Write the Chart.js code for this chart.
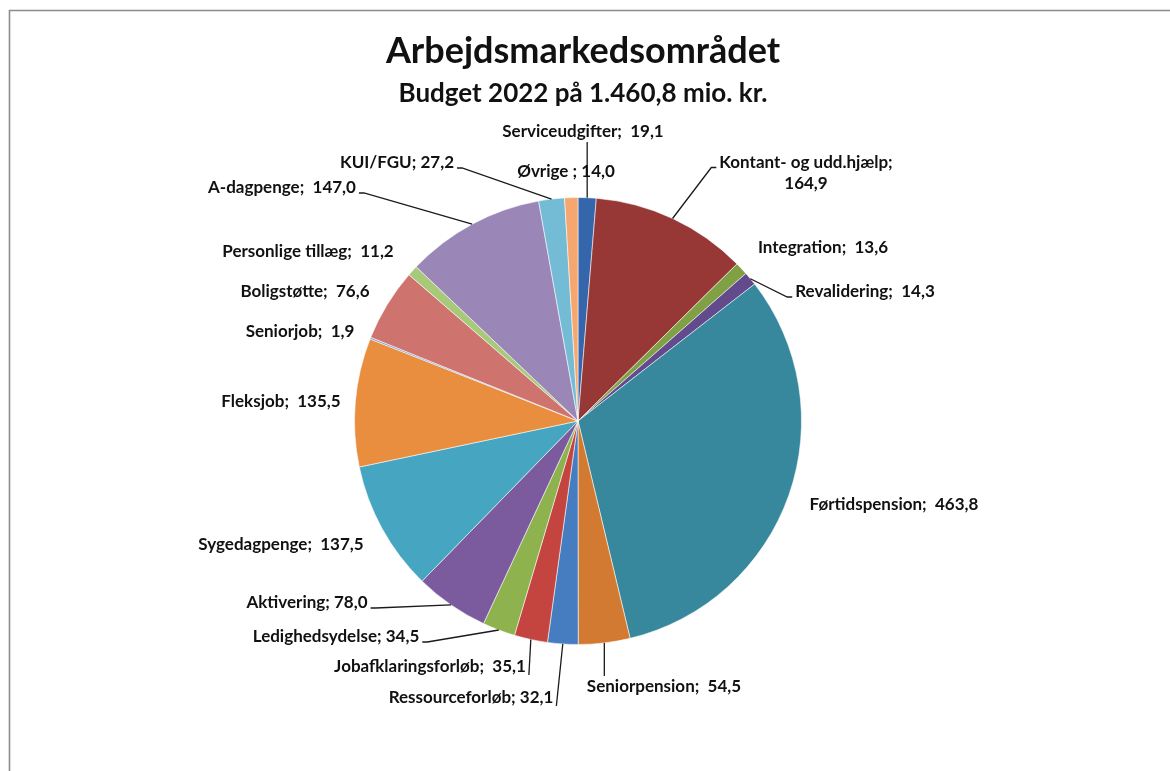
<!DOCTYPE html>
<html><head><meta charset="utf-8">
<script src="https://cdn.jsdelivr.net/npm/chart.js@4.4.1/dist/chart.umd.min.js"></script>
<style>html,body{margin:0;padding:0;background:#fff;} #wrap{position:relative;width:1170px;height:771px;}</style>
</head><body><div id="wrap"><canvas id="c" width="1170" height="771"></canvas></div>
<script>
const categories = ["Serviceudgifter","Kontant- og udd.hjælp","Integration","Revalidering","Førtidspension","Seniorpension","Ressourceforløb","Jobafklaringsforløb","Ledighedsydelse","Aktivering","Sygedagpenge","Fleksjob","Seniorjob","Boligstøtte","Personlige tillæg","A-dagpenge","KUI/FGU","Øvrige "];
const budget = [19.1,164.9,13.6,14.3,463.8,54.5,32.1,35.1,34.5,78.0,137.5,135.5,1.9,76.6,11.2,147.0,27.2,14.0];
const labelSeparators = [";  ",";",";  ",";  ",";  ",";  ","; ",";  ","; ","; ",";  ",";  ",";  ",";  ",";  ",";  ","; ","; "];
const titleText = "Arbejdsmarkedsområdet";
const subtitleText = "Budget 2022 på 1.460,8 mio. kr.";

const sliceColors = ["#3566AC","#973836","#7FA144","#634A8C","#37889C","#D27A32","#467DC1","#C4453F","#8DB24E","#7B5A9E","#46A6C2","#E98E3F","#7E9FCB","#CF736F","#A9C97A","#9A87B8","#74BCD6","#F6A770"];

// label placement (label centre) and leader style
const labelLayout = [
  {x:583,y:132,leader:'below'},
  {x:806,y:173,leader:'left',wrap:true},
  {x:823,y:248,leader:null},
  {x:865,y:292,leader:'left'},
  {x:894,y:505,leader:null},
  {x:664,y:687,leader:'above'},
  {x:471,y:698,leader:'rightv'},
  {x:430,y:667,leader:'rightv'},
  {x:336,y:637,leader:'right'},
  {x:307,y:603,leader:'right'},
  {x:281,y:545,leader:null},
  {x:281,y:402,leader:null},
  {x:300,y:332,leader:null},
  {x:305,y:292,leader:null},
  {x:308,y:252,leader:null},
  {x:282,y:188,leader:'right'},
  {x:397,y:163,leader:'right'},
  {x:566,y:172,leader:null}
];

const FONT = "Lato, 'Noto Sans', sans-serif";
const labelFont = "bold 17px " + FONT;
const fmt = v => v.toFixed(1).replace('.', ',');

const framePlugin = {
  id:'frame',
  beforeDraw(chart){
    const ctx = chart.ctx;
    ctx.save();
    ctx.fillStyle = '#fff';
    ctx.fillRect(0,0,chart.width,chart.height);
    ctx.strokeStyle = '#8c8c8c';
    ctx.lineWidth = 1.6;
    ctx.beginPath();
    ctx.moveTo(9.5, chart.height+2);
    ctx.lineTo(9.5, 10.5);
    ctx.lineTo(chart.width+2, 10.5);
    ctx.stroke();
    ctx.restore();
  }
};

const labelPlugin = {
  id:'pieLabels',
  afterDatasetsDraw(chart){
    const ctx = chart.ctx;
    ctx.save();
    ctx.fillStyle = '#111';
    ctx.textAlign = 'center';
    ctx.textBaseline = 'middle';
    ctx.font = "bold 36px " + FONT;
    ctx.fillText(titleText, 583, 51);
    ctx.font = "bold 26px " + FONT;
    ctx.fillText(subtitleText, 583, 94);

    const meta = chart.getDatasetMeta(0);
    ctx.font = labelFont;
    const lineH = 21;
    meta.data.forEach((arc, i) => {
      const p = arc.getProps(['x','y','startAngle','endAngle','outerRadius'], true);
      const mid = (p.startAngle + p.endAngle) / 2;
      const ex = p.x + Math.cos(mid) * p.outerRadius;
      const ey = p.y + Math.sin(mid) * p.outerRadius;
      const L = labelLayout[i];
      const lines = L.wrap ? [categories[i] + labelSeparators[i], fmt(budget[i])] : [categories[i] + labelSeparators[i] + fmt(budget[i])];
      const top = L.y - lines.length * lineH / 2;
      lines.forEach((t, k) => {
        ctx.fillStyle = '#111';
        ctx.fillText(t, L.x, top + lineH * (k + 0.5));
      });
      if (!L.leader) return;
      const w0 = ctx.measureText(lines[0]).width;
      const ly = top + lineH * 0.5;
      ctx.strokeStyle = '#1a1a1a';
      ctx.lineWidth = 1.3;
      ctx.beginPath();
      if (L.leader === 'left') {
        const x0 = L.x - w0 / 2 - 3, y0 = ly + 5;
        ctx.moveTo(ex, ey); ctx.lineTo(x0 - 5, y0); ctx.lineTo(x0, y0);
      } else if (L.leader === 'right') {
        const x0 = L.x + w0 / 2 + 3, y0 = ly + 5;
        ctx.moveTo(ex, ey); ctx.lineTo(x0 + 5, y0); ctx.lineTo(x0, y0);
      } else if (L.leader === 'rightv') {
        const x0 = L.x + w0 / 2 + 3;
        ctx.moveTo(ex, ey); ctx.lineTo(x0, ly + 8);
      } else if (L.leader === 'below') {
        ctx.moveTo(ex, L.y + 10); ctx.lineTo(ex, ey);
      } else if (L.leader === 'above') {
        ctx.moveTo(ex, L.y - 11); ctx.lineTo(ex, ey);
      }
      ctx.stroke();
    });
    ctx.restore();
  }
};

new Chart(document.getElementById('c'), {
  type: 'pie',
  data: {
    labels: categories,
    datasets: [{
      data: budget,
      backgroundColor: sliceColors,
      borderColor: 'rgba(255,255,255,0.55)',
      borderWidth: 1
    }]
  },
  options: {
    responsive: false,
    animation: false,
    layout: { padding: { left: 354, right: 368, top: 197, bottom: 126 } },
    plugins: { legend: { display: false }, tooltip: { enabled: false }, title: { display: false } }
  },
  plugins: [framePlugin, labelPlugin]
});
</script>
</body></html>
